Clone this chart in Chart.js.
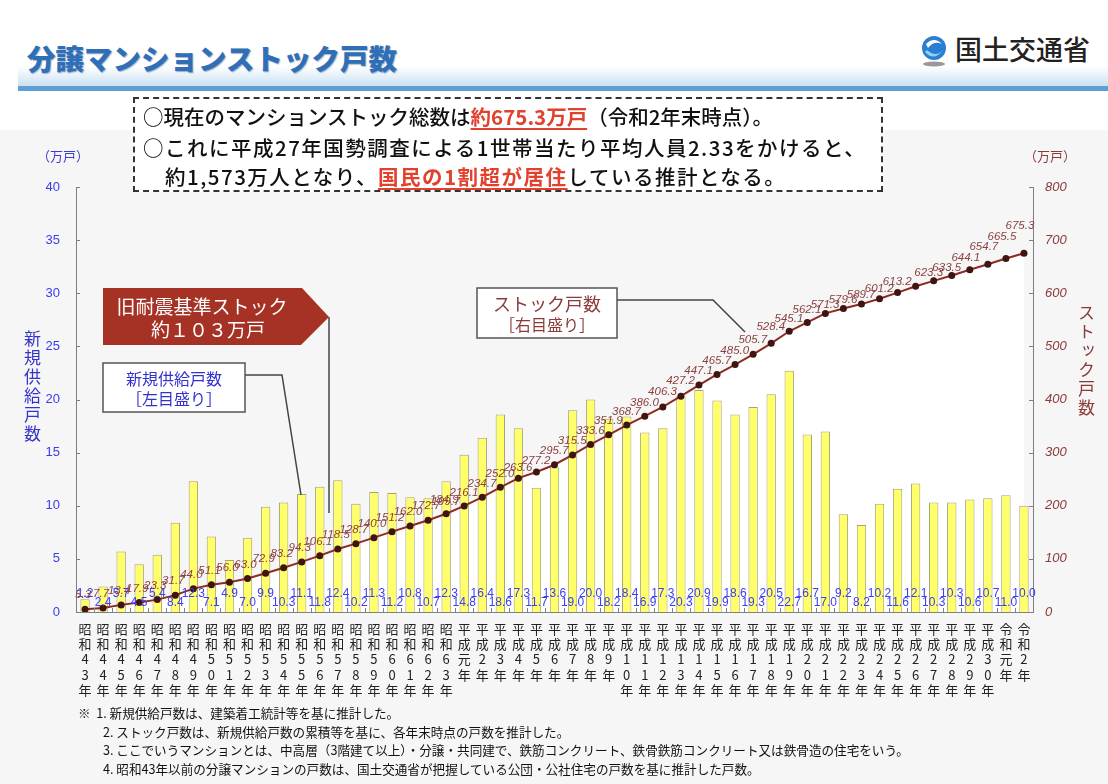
<!DOCTYPE html>
<html lang="ja">
<head>
<meta charset="utf-8">
<script src="https://cdn.jsdelivr.net/npm/chart.js@4.4.1/dist/chart.umd.min.js"></script>
<style>
  html,body{margin:0;padding:0;}
  body{width:1108px;height:784px;position:relative;overflow:hidden;background:#fff;
       font-family:'Noto Sans CJK JP','Noto Sans',sans-serif;}
  .abs{position:absolute;}
  #gray{left:0;top:130px;width:1108px;height:654px;background:#f6f6f6;}
  #c{left:0;top:0;}
  #title{left:27px;top:37px;font-size:28.5px;font-weight:900;color:#2f6fb8;letter-spacing:0px;
         text-shadow:1px 1px 1px rgba(0,40,100,0.35);white-space:nowrap;}
  #band{left:18px;top:66px;width:1090px;height:21px;background:linear-gradient(to bottom,#ffffff,#c9e0f2);}
  #bandline{left:18px;top:86px;width:1090px;height:5px;background:#5f9fd3;}
  #logo{left:955px;top:29px;font-size:27px;color:#222;font-weight:500;white-space:nowrap;}
  #box{left:133px;top:97px;width:746px;height:91px;border:2px dashed #333;background:#fff;}
  .bl{position:absolute;font-size:20.5px;color:#111;white-space:nowrap;font-weight:500;line-height:24px;}
  .red{color:#e2412e;font-weight:700;text-decoration:underline;text-underline-offset:3px;}
  .unitL{left:37px;top:146px;font-size:13px;color:#3b3bd6;}
  .unitR{left:1024px;top:146px;font-size:13px;color:#8b3a3a;}
  .vtitle{writing-mode:vertical-rl;text-orientation:upright;font-size:17px;letter-spacing:2px;}
  #vl{left:20px;top:330px;color:#3333cc;}
  #vr{left:1074px;top:304px;color:#8b3a3a;}
  .note{position:absolute;font-size:12.6px;color:#111;white-space:nowrap;}
</style>
</head>
<body>
<div id="gray" class="abs"></div>
<div id="band" class="abs"></div>
<div id="bandline" class="abs"></div>
<div id="title" class="abs">分譲マンションストック戸数</div>
<svg class="abs" style="left:916px;top:32px" width="36" height="36" viewBox="0 0 36 36">
  <circle cx="18" cy="16" r="12" fill="#2a7fd0"/>
  <path d="M10 12 Q18 4 26 12 Q18 8 12 16 Z" fill="#fff"/>
  <path d="M9 20 Q18 30 27 18 Q20 26 11 18 Z" fill="#8fd0f5"/>
  <ellipse cx="18" cy="32" rx="11" ry="2.5" fill="#999"/>
</svg>
<div id="logo" class="abs">国土交通省</div>

<canvas id="c" class="abs" width="1108" height="784"></canvas>

<div id="box" class="abs"></div>
<div class="bl" style="left:143px;top:104px;">○現在のマンションストック総数は<span class="red">約675.3万戸</span>（令和2年末時点）。</div>
<div class="bl" style="left:143px;top:135px;letter-spacing:1.5px;">○これに平成27年国勢調査による1世帯当たり平均人員2.33をかけると、</div>
<div class="bl" style="left:165px;top:164px;letter-spacing:1.5px;">約1,573万人となり、<span class="red">国民の1割超が居住</span>している推計となる。</div>

<div class="abs unitL">（万戸）</div>
<div class="abs unitR">（万戸）</div>
<div id="vl" class="abs vtitle">新規供給戸数</div>
<div id="vr" class="abs vtitle">ストック戸数</div>

<svg class="abs" style="left:0;top:0;pointer-events:none" width="1108" height="784">
  <line x1="329" y1="317" x2="329" y2="513" stroke="#444" stroke-width="1.5"/>
  <polygon points="103,288 302,288 329,317 301,345 103,345" fill="#a53225"/>
  <text x="202" y="314" font-size="19" fill="#fff" text-anchor="middle" font-family="Noto Sans CJK JP">旧耐震基準ストック</text>
  <text x="208" y="337" font-size="19" fill="#fff" text-anchor="middle" font-family="Noto Sans CJK JP">約１０３万戸</text>
  <polyline points="245,375 282,375 301,495" fill="none" stroke="#444" stroke-width="1.5"/>
  <rect x="103" y="363" width="142" height="49" fill="#fff" stroke="#555" stroke-width="1.5"/>
  <text x="174" y="385" font-size="16" fill="#3333cc" text-anchor="middle" font-family="Noto Sans CJK JP">新規供給戸数</text>
  <text x="174" y="405" font-size="16" fill="#3333cc" text-anchor="middle" font-family="Noto Sans CJK JP">［左目盛り］</text>
  <polyline points="617,300 713,300 745,332" fill="none" stroke="#444" stroke-width="1.5"/>
  <rect x="477" y="288" width="140" height="50" fill="#fff" stroke="#555" stroke-width="1.5"/>
  <text x="547" y="311" font-size="18" fill="#8b3a3a" text-anchor="middle" font-family="Noto Sans CJK JP">ストック戸数</text>
  <text x="547" y="331" font-size="16" fill="#8b3a3a" text-anchor="middle" font-family="Noto Sans CJK JP">［右目盛り］</text>
</svg>

<div class="note" style="left:78px;top:703px;">※&nbsp;&nbsp;1. 新規供給戸数は、建築着工統計等を基に推計した。</div>
<div class="note" style="left:103px;top:722px;">2. ストック戸数は、新規供給戸数の累積等を基に、各年末時点の戸数を推計した。</div>
<div class="note" style="left:103px;top:740px;">3. ここでいうマンションとは、中高層（3階建て以上）・分譲・共同建で、鉄筋コンクリート、鉄骨鉄筋コンクリート又は鉄骨造の住宅をいう。</div>
<div class="note" style="left:103px;top:759px;">4. 昭和43年以前の分譲マンションの戸数は、国土交通省が把握している公団・公社住宅の戸数を基に推計した戸数。</div>

<script>
// ---- data ----
const categories = [
  '昭和43年','昭和44年','昭和45年','昭和46年','昭和47年','昭和48年','昭和49年','昭和50年',
  '昭和51年','昭和52年','昭和53年','昭和54年','昭和55年','昭和56年','昭和57年','昭和58年',
  '昭和59年','昭和60年','昭和61年','昭和62年','昭和63年',
  '平成元年','平成2年','平成3年','平成4年','平成5年','平成6年','平成7年','平成8年','平成9年',
  '平成10年','平成11年','平成12年','平成13年','平成14年','平成15年','平成16年','平成17年',
  '平成18年','平成19年','平成20年','平成21年','平成22年','平成23年','平成24年','平成25年',
  '平成26年','平成27年','平成28年','平成29年','平成30年',
  '令和元年','令和2年'
];
const newSupply = [
  1.2, 2.4, 5.7, 4.5, 5.4, 8.4, 12.3, 7.1, 4.9, 7.0, 9.9, 10.3, 11.1, 11.8, 12.4, 10.2,
  11.3, 11.2, 10.8, 10.7, 12.3,
  14.8, 16.4, 18.6, 17.3, 11.7, 13.6, 19.0, 20.0, 18.2, 18.4, 16.9, 17.3, 20.3, 20.9,
  19.9, 18.6, 19.3, 20.5, 22.7, 16.7, 17.0, 9.2, 8.2, 10.2, 11.6, 12.1, 10.3, 10.3, 10.6, 10.7,
  11.0, 10.0
];
const stock = [
  5.3, 7.7, 13.4, 17.9, 23.3, 31.7, 44.0, 51.1, 56.0, 63.0, 72.9, 83.2, 94.3, 106.1, 118.5,
  128.7, 140.0, 151.2, 162.0, 172.7, 184.9,
  199.7, 216.1, 234.7, 252.0, 263.6, 277.2, 295.7, 315.5, 333.6, 351.9, 368.7, 386.0, 406.3,
  427.2, 447.1, 465.7, 485.0, 505.7, 528.4, 545.1, 562.1, 571.3, 579.6, 589.7, 601.2, 613.2,
  623.3, 633.5, 644.1, 654.7, 665.5, 675.3
];
const leftTicks = [0, 5, 10, 15, 20, 25, 30, 35, 40];
const rightTicks = [0, 100, 200, 300, 400, 500, 600, 700, 800];

const NUMFONT = "'Liberation Sans', Arial, sans-serif";

const labelsPlugin = {
  id: 'valueLabels',
  afterDatasetsDraw(chart) {
    const ctx = chart.ctx;
    const area = chart.chartArea;
    const yScale = chart.scales.y;
    ctx.save();
    ctx.strokeStyle = '#808080';
    ctx.lineWidth = 1;
    leftTicks.forEach(v => {
      const py = Math.round(yScale.getPixelForValue(v)) + 0.5;
      ctx.beginPath(); ctx.moveTo(area.left, py); ctx.lineTo(area.left + 4, py); ctx.stroke();
    });
    const y1 = chart.scales.y1;
    rightTicks.forEach(v => {
      const py = Math.round(y1.getPixelForValue(v)) + 0.5;
      ctx.beginPath(); ctx.moveTo(area.right, py); ctx.lineTo(area.right - 4, py); ctx.stroke();
    });
    const xs = chart.scales.x;
    for (let i = 0; i <= categories.length; i++) {
      const px = Math.round(xs.getPixelForValue(i - 0.5)) + 0.5;
      ctx.beginPath(); ctx.moveTo(px, area.bottom); ctx.lineTo(px, area.bottom - 4); ctx.stroke();
    }
    ctx.restore();

    const barMeta = chart.getDatasetMeta(0);
    ctx.save();
    ctx.font = '12px ' + NUMFONT;
    ctx.fillStyle = '#3d3df2';
    ctx.textAlign = 'center';
    ctx.textBaseline = 'middle';
    const base = yScale.getPixelForValue(0);
    barMeta.data.forEach((el, i) => {
      const y = base - (i % 2 === 0 ? 18 : 9);
      ctx.fillText(newSupply[i].toFixed(1), el.x, y);
    });
    ctx.restore();

    const lineMeta = chart.getDatasetMeta(1);
    ctx.save();
    ctx.font = 'italic 11.5px ' + NUMFONT;
    ctx.fillStyle = '#8b3f3f';
    ctx.textBaseline = 'middle';
    lineMeta.data.forEach((el, i) => {
      let x = el.x, y = el.y, align = 'center';
      if (i <= 20) { x -= 2; y -= 14; }
      else if (i <= 46) { x -= 4; y -= 4; align = 'right'; }
      else if (i <= 48) { x -= 5; y -= 8; }
      else { x -= 4; y -= 12 + (i - 49) * 5; }
      ctx.textAlign = align;
      ctx.fillText(stock[i].toFixed(1), x, y);
    });
    ctx.restore();
  }
};

new Chart(document.getElementById('c'), {
  data: {
    labels: categories,
    datasets: [
      {
        type: 'bar',
        label: '新規供給戸数',
        data: newSupply,
        yAxisID: 'y',
        backgroundColor: '#ffff6a',
        borderColor: '#a8a27a',
        borderWidth: 1,
        barPercentage: 0.52,
        categoryPercentage: 1.0,
        order: 2
      },
      {
        type: 'line',
        label: 'ストック戸数',
        data: stock,
        yAxisID: 'y1',
        borderColor: '#8e2b20',
        borderWidth: 2,
        pointRadius: 3.5,
        pointBackgroundColor: '#3e1512',
        pointBorderColor: '#3e1512',
        pointBorderWidth: 0,
        tension: 0,
        fill: { target: 'origin', above: '#ffffff', below: '#ffffff' },
        backgroundColor: '#ffffff',
        order: 1
      }
    ]
  },
  options: {
    responsive: false,
    animation: false,
    devicePixelRatio: 1,
    layout: { padding: { left: 36, right: 15, top: 187, bottom: 72 } },
    plugins: {
      legend: { display: false },
      tooltip: { enabled: false },
      filler: { drawTime: 'beforeDatasetsDraw' }
    },
    scales: {
      x: {
        type: 'category',
        grid: { display: false, drawTicks: false },
        border: { display: true, color: '#808080', width: 1 },
        ticks: {
          autoSkip: false,
          maxRotation: 0,
          minRotation: 0,
          padding: 9,
          color: '#222',
          font: { size: 13, family: "'Noto Sans CJK JP', sans-serif", lineHeight: 1.18 },
          callback: function (v, i) { return Array.from(categories[i]); }
        },
        afterFit: s => { s.height = 100; }
      },
      y: {
        position: 'left',
        min: 0, max: 40,
        grid: { display: false, drawTicks: false },
        border: { display: true, color: '#808080', width: 1 },
        afterBuildTicks: s => { s.ticks = leftTicks.map(v => ({ value: v })); },
        ticks: {
          padding: 16,
          color: '#3b3bf0',
          font: { size: 13, family: NUMFONT }
        },
        afterFit: s => { s.width = 40; }
      },
      y1: {
        position: 'right',
        min: 0, max: 800,
        grid: { display: false, drawTicks: false },
        border: { display: true, color: '#808080', width: 1 },
        afterBuildTicks: s => { s.ticks = rightTicks.map(v => ({ value: v })); },
        ticks: {
          padding: 12,
          color: '#8b3a3a',
          font: { size: 13, style: 'italic', family: NUMFONT }
        },
        afterFit: s => { s.width = 60; }
      }
    }
  },
  plugins: [labelsPlugin]
});
</script>
</body>
</html>
